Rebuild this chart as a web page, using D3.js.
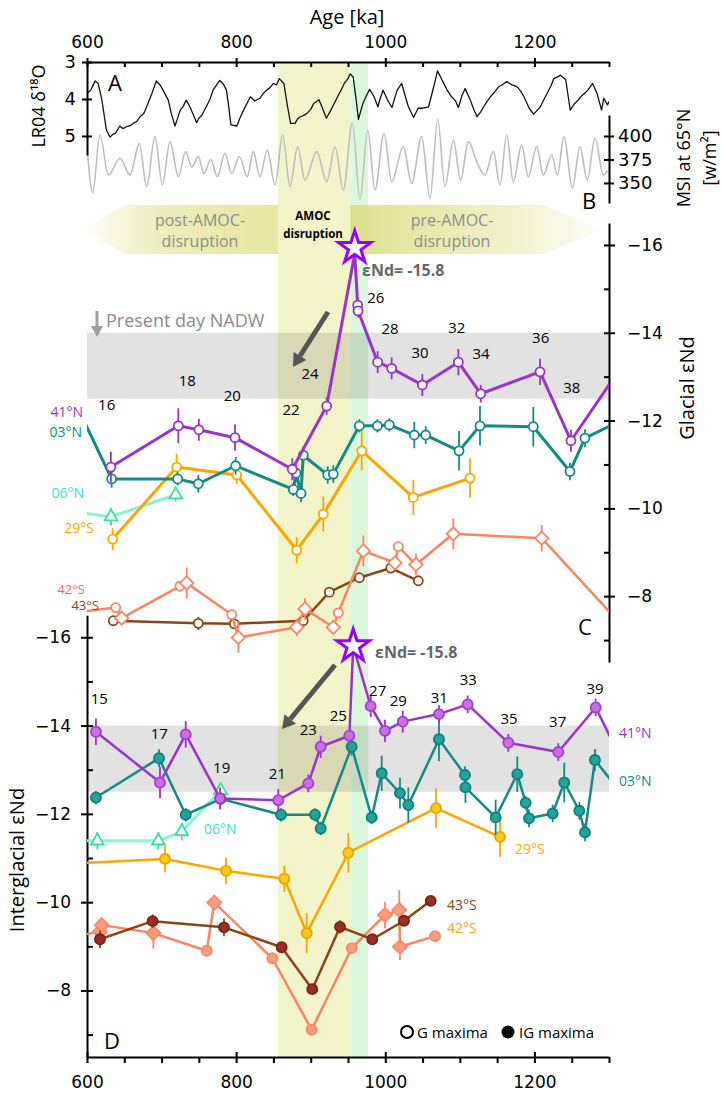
<!DOCTYPE html>
<html><head><meta charset="utf-8">
<script src="https://cdn.jsdelivr.net/npm/d3@7"></script>
<style>
body{margin:0;background:#fff}
svg{display:block}
text{font-family:"Open Sans",sans-serif}
.tick text{font-family:"DejaVu Sans",sans-serif;font-size:17px;fill:#000}
</style>
</head><body>
<svg id="c" width="723" height="1096"></svg>
<script>
// ---------------- DATA ----------------
const ageTicks = [600, 800, 1000, 1200];
const ageMinor = d3.range(600, 1301, 50);
const d18Ticks = [3, 4, 5];
const msiTicks = [350, 375, 400];
const endMajor = [-16, -14, -12, -10, -8];
const endMinor = [-15, -13, -11, -9, -7];
const amocBand = [856, 953];
const greenBand = [953, 977];
const nadwBand = [-14, -12.5];

// LR04 benthic d18O stack [age ka, permil]
const lr04 = [[600,3.85],[605,3.76],[611,3.51],[615,3.58],[620,4.03],[626,4.84],[631,5.03],[635,4.95],[638,4.93],[644,4.73],[648,4.80],[653,4.75],[658,4.72],[662,4.66],[667,4.60],[671,4.48],[676,4.40],[680,4.21],[687,3.85],[693,3.51],[698,3.62],[702,3.76],[709,4.03],[713,4.39],[718,4.73],[721,4.55],[725,4.30],[729,4.20],[733,4.03],[738,4.21],[742,4.40],[747,4.64],[750,4.52],[754,4.44],[760,4.21],[765,4.00],[769,3.76],[778,3.50],[783,3.60],[787,3.76],[790,4.20],[793,4.70],[801,4.73],[805,4.52],[810,4.30],[815,4.10],[819,3.94],[825,4.05],[832,3.98],[836,3.86],[841,3.76],[845,3.70],[850,3.58],[854,3.62],[858,3.45],[864,3.58],[869,4.21],[873,4.66],[879,4.66],[882,4.55],[886,4.48],[890,4.45],[895,4.39],[900,4.28],[904,4.12],[911,4.02],[915,4.21],[921,4.52],[927,4.30],[932,4.10],[936,3.94],[941,3.75],[945,3.58],[950,3.45],[953,3.32],[957,3.41],[961,4.03],[964,4.55],[970,4.12],[975,3.90],[979,3.74],[985,3.94],[990,4.21],[993,4.00],[997,3.76],[1003,4.03],[1009,4.23],[1013,3.95],[1016,3.76],[1022,3.58],[1027,3.94],[1031,4.21],[1038,4.50],[1044,4.25],[1050,4.25],[1058,4.21],[1065,3.67],[1070,3.24],[1076,3.48],[1083,3.76],[1089,3.94],[1094,4.05],[1098,4.23],[1103,3.90],[1107,3.72],[1114,4.03],[1119,4.30],[1123,4.48],[1128,4.35],[1132,4.21],[1137,4.05],[1141,3.94],[1147,3.80],[1152,3.67],[1158,3.60],[1163,3.53],[1170,3.62],[1177,3.67],[1182,3.80],[1186,3.94],[1193,4.25],[1199,4.41],[1204,4.30],[1208,4.21],[1213,4.00],[1217,3.85],[1222,3.65],[1226,3.45],[1235,3.36],[1242,3.48],[1248,4.30],[1254,4.12],[1258,4.05],[1262,3.94],[1267,3.85],[1271,3.78],[1278,3.58],[1284,3.85],[1290,4.30],[1293,3.98],[1298,4.16],[1300,4.07]];

// Mid-summer insolation at 65N [age ka, W/m2]
const msi = [[600,390],[607.6,339.7],[617.4,401],[628.6,358.5],[644.3,376.3],[657.7,358.5],[670.2,392],[680,346],[691.2,399.3],[701,348],[711.3,394],[722.5,356.7],[732.3,383.3],[740.4,367],[749.3,378],[756.9,360],[765.9,375],[774.8,356.7],[785,381.6],[794,360],[804.3,378],[815,356.7],[823,383.3],[832,356.7],[841.8,385],[852.1,348],[862.4,401],[872.2,346],[882.5,388.6],[892.3,353],[908,383.3],[921.4,351.4],[932.6,388.6],[943.7,342.5],[955.8,414],[966.1,332.6],[976.4,406.4],[986.2,342.5],[998.3,402.8],[1008.6,351.4],[1024.2,388.6],[1035.4,349.6],[1048.8,399.3],[1060,333.7],[1070.3,417.7],[1080.1,346],[1091.2,395.7],[1101.1,353],[1111.3,394],[1123.4,371],[1133.7,358.5],[1144.9,383.3],[1153.8,348],[1162.8,401],[1171.7,351.4],[1182.9,390.4],[1191.8,356.7],[1203.1,388.6],[1211.9,358.5],[1223.2,379.8],[1230.7,358.5],[1239.7,399.3],[1250.8,344.4],[1261.1,388.6],[1270.9,353],[1281.2,397.5],[1292.4,358.5],[1298,363]];

// Glacial eNd [age, eNd, 1sd, marker]  (marker: c circle, d diamond, t triangle, n none, star)
const g41N = [[632,-10.94,0.35],[722.5,-11.88,0.4],[750,-11.79,0.25],[798.5,-11.61,0.3],[875.3,-10.89,0.25],[921.4,-12.33,0.2],[959,-15.8,0,'star'],[963,-14.63,0.1],[963.5,-14.5,0.15],[989.8,-13.33,0.25],[1008.6,-13.19,0.25],[1049.7,-12.81,0.25],[1098,-13.33,0.3],[1128,-12.61,0.2],[1207.5,-13.11,0.3],[1249,-11.54,0.25],[1310,-13.06,0,'n']];
const g03N = [[593,-12.1,0,'n'],[633,-10.67,0.2],[721.6,-10.67,0.15],[749.3,-10.56,0.2],[799.4,-10.97,0.2],[876.7,-10.43,0.15],[880.3,-10.8,0.2],[887,-10.34,0.2],[890,-11.21,0.2],[922.8,-10.76,0.2],[930.3,-10.78,0.2],[965.2,-11.88,0.15],[989.5,-11.88,0.15],[1005.4,-11.9,0.15],[1038.9,-11.67,0.3],[1054.2,-11.67,0.2],[1098.9,-11.31,0.45],[1127,-11.88,0.45],[1198.5,-11.86,0.45],[1247.7,-10.84,0.2],[1267.8,-11.6,0.2],[1310,-11.95,0,'n']];
const g06N = [[593,-9.9,0,'n'],[632.2,-9.81,0.2],[719,-10.31,0.15]];
const g29S = [[634.4,-9.30,0.25],[720.2,-10.94,0.3],[800.7,-10.76,0.2],[881.2,-9.05,0.3],[916.9,-9.87,0.4],[968.4,-11.31,0.45],[1037.6,-10.25,0.4],[1113.6,-10.69,0.45]];
const g42S = [[593,-7.65,0,'n'],[638.5,-7.74,0.1,'c'],[646.5,-7.5,0.1,'d'],[724.7,-8.23,0.1,'c'],[733.7,-8.3,0.35,'d'],[794,-7.58,0.1,'c'],[803,-7.06,0.35,'d'],[881.2,-7.29,0.2,'d'],[892.3,-7.71,0.25,'d'],[930.3,-7.29,0.1,'d'],[937,-7.62,0.1,'c'],[970.6,-9.03,0.35,'d'],[1013,-8.76,0.1,'d'],[1017.5,-9.13,0.1,'c'],[1041.2,-8.72,0.25,'d'],[1091.2,-9.42,0.35,'d'],[1209.8,-9.32,0.3,'d'],[1310,-7.47,0,'n']];
const g43S = [[635.3,-7.44,0.1],[749.3,-7.38,0.15],[797.6,-7.37,0.1],[890,-7.44,0.1],[925,-8.09,0.1],[965.2,-8.42,0.1],[1007.3,-8.64,0.1],[1044.3,-8.35,0.1]];

// Interglacial eNd
const i41N = [[612,-13.86,0.3],[697.9,-12.71,0.35],[732.4,-13.8,0.3],[778.4,-12.35,0.25],[856.5,-12.31,0.25],[896.8,-12.69,0.2],[913.4,-13.52,0.25],[951.8,-13.77,0.1],[957,-15.8,0,'star'],[980.4,-14.44,0.25],[999.6,-13.88,0.25],[1023.4,-14.09,0.25],[1072,-14.26,0.2],[1110.5,-14.48,0.2],[1165,-13.61,0.2],[1232,-13.4,0.2],[1282.2,-14.41,0.2],[1310,-13.45,0,'n']];
const i03N = [[612,-12.37,0.15],[696.6,-13.26,0.2],[732.4,-11.98,0.15],[779.3,-12.34,0.15],[860.2,-11.98,0.15],[905.8,-11.98,0.15],[913.4,-11.67,0.15],[954.9,-13.52,0.2],[981.8,-11.92,0.15],[995.2,-12.92,0.4],[1019.7,-12.47,0.35],[1030.9,-12.2,0.4],[1072,-13.69,0.5],[1106.9,-12.88,0.2],[1107.5,-12.6,0.35],[1148,-11.92,0.4],[1177,-12.9,0.4],[1188.3,-12.25,0.15],[1192.7,-11.9,0.2],[1224.5,-12.01,0.2],[1240,-12.71,0.45],[1260.2,-12.07,0.2],[1267.8,-11.58,0.2],[1281.2,-13.22,0.25],[1310,-12.6,0,'n']];
const i06N = [[593,-11.39,0,'n'],[613.8,-11.39,0.2],[695.6,-11.39,0.2],[727,-11.6,0.2],[779.3,-12.53,0.15]];
const i29S = [[593,-10.89,0,'n'],[704.6,-10.98,0.3],[786.4,-10.71,0.3],[864.6,-10.53,0.3],[894.6,-9.30,0.45],[950.4,-11.12,0.45],[1068,-12.13,0.45],[1153.9,-11.48,0.45]];
const i42S = [[593,-9.26,0,'n'],[617.4,-9.33,0.15,'d'],[619.7,-9.48,0.15,'d'],[689,-9.3,0.35,'d'],[760.5,-8.9,0.1,'c'],[770.7,-9.99,0.15,'d'],[848.5,-8.73,0.1,'c'],[901.2,-7.11,0.1,'c'],[955,-8.96,0.1,'c'],[999.6,-9.71,0.3,'d'],[1018.8,-9.82,0.45,'d'],[1019.7,-8.99,0.3,'d'],[1066.7,-9.23,0.1,'c']];
const i43S = [[617.4,-9.16,0.2],[688,-9.57,0.15],[783.7,-9.43,0.2],[861,-8.98,0.1],[902.1,-8.03,0.1],[939.3,-9.44,0.15],[982.6,-9.16,0.1],[1025.1,-9.58,0.1],[1060.9,-10.03,0.1]];

// MIS stage labels [label, age, eNd]
const misG = [["16",626.4,-12.38],["18",734.5,-12.92],["20",794.9,-12.58],["22",873.6,-12.26],["24",899,-13.08],["26",987.2,-14.82],["28",1006.3,-14.1],["30",1046.6,-13.57],["32",1095.8,-14.14],["34",1128.4,-13.53],["36",1208.4,-13.91],["38",1250,-12.76]];
const misIG = [["15",616.5,-14.62],["17",697,-13.83],["19",780.6,-13.06],["21",855.2,-12.92],["23",896.8,-13.92],["25",937,-14.24],["27",989.8,-14.81],["29",1017.5,-14.58],["31",1072.4,-14.65],["33",1111.3,-15.05],["35",1165.9,-14.17],["37",1231.2,-14.11],["39",1281.2,-14.84]];
const starValue = -15.8;

// ---------------- SCALES ----------------
const X = d3.scaleLinear().domain([600, 1300]).range([87, 609]);
const yLR = d3.scaleLinear().domain([3, 5.514]).range([62, 155]);
const yMSI = d3.scaleLinear().domain([328.7, 422.3]).range([203, 115]);
const yG = d3.scaleLinear().domain([-16.5, -6.5]).range([223, 662]);
const yIG = d3.scaleLinear().domain([-16.5, -6.5]).range([615.2, 1056.7]);

const svg = d3.select('#c');
const defs = svg.append('defs');
defs.append('clipPath').attr('id', 'clip').append('rect')
  .attr('x', X(600)).attr('y', 0).attr('width', X(1300) - X(600)).attr('height', 1096);
const g1 = defs.append('linearGradient').attr('id', 'postG').attr('x1', 0).attr('x2', 1).attr('y1', 0).attr('y2', 0);
g1.append('stop').attr('offset', 0).attr('stop-color', '#e6e49a').attr('stop-opacity', 0);
g1.append('stop').attr('offset', 0.4).attr('stop-color', '#e6e49a').attr('stop-opacity', 0.65);
g1.append('stop').attr('offset', 1).attr('stop-color', '#e6e49c').attr('stop-opacity', 0.95);
const g2 = defs.append('linearGradient').attr('id', 'preG').attr('x1', 0).attr('x2', 1).attr('y1', 0).attr('y2', 0);
g2.append('stop').attr('offset', 0).attr('stop-color', '#dcdf8a').attr('stop-opacity', 0.95);
g2.append('stop').attr('offset', 0.6).attr('stop-color', '#e6e49a').attr('stop-opacity', 0.55);
g2.append('stop').attr('offset', 1).attr('stop-color', '#e6e49a').attr('stop-opacity', 0.05);

// ---------------- BANDS ----------------
svg.append('rect').attr('x', X(amocBand[0])).attr('width', X(amocBand[1]) - X(amocBand[0]))
  .attr('y', 62).attr('height', 1057 - 62).attr('fill', '#f4f4cb');
svg.append('rect').attr('x', X(greenBand[0])).attr('width', X(greenBand[1]) - X(greenBand[0]))
  .attr('y', 62).attr('height', 1057 - 62).attr('fill', '#dcf8dc');

[yG, yIG].forEach(ys => {
  svg.append('rect').attr('x', X(600)).attr('width', X(1300) - X(600))
    .attr('y', ys(nadwBand[0])).attr('height', ys(nadwBand[1]) - ys(nadwBand[0]))
    .attr('fill', 'rgba(0,0,0,0.115)');
});

// Arrow bands
const bt = 205, bb = 254, bm = (bt + bb) / 2;
svg.append('path').attr('fill', 'url(#postG)')
  .attr('d', `M${X(590)},${bm} L${X(652)},${bt} L${X(amocBand[0])},${bt} L${X(amocBand[0])},${bb} L${X(652)},${bb} Z`);
svg.append('path').attr('fill', 'url(#preG)')
  .attr('d', `M${X(amocBand[1])},${bt} L${X(1212)},${bt} L${X(1292)},${bm} L${X(1212)},${bb} L${X(amocBand[1])},${bb} Z`);

const txt = (x, y, s, o = {}) => svg.append('text').attr('x', x).attr('y', y).text(s)
  .attr('font-size', o.size || 16).attr('fill', o.fill || '#000')
  .attr('text-anchor', o.anchor || 'middle').attr('dominant-baseline', 'central')
  .attr('font-weight', o.weight || 'normal').attr('font-family', o.family || '"Open Sans",sans-serif');

txt(200, 220, 'post-AMOC-', { fill: '#8c8c8c', size: 16 });
txt(200, 241, 'disruption', { fill: '#8c8c8c', size: 16 });
txt(452, 220, 'pre-AMOC-', { fill: '#8c8c8c', size: 16 });
txt(452, 241, 'disruption', { fill: '#8c8c8c', size: 16 });
txt(313, 215, 'AMOC', { size: 11.5, weight: 'bold' });
txt(313, 233, 'disruption', { size: 11.5, weight: 'bold' });

// ---------------- TOP PANEL ----------------
const clipG = svg.append('g').attr('clip-path', 'url(#clip)');
clipG.append('path').attr('d', d3.line().curve(d3.curveMonotoneX).x(d => X(d[0])).y(d => yMSI(d[1]))(msi))
  .attr('fill', 'none').attr('stroke', '#bdbdbd').attr('stroke-width', 1.6);
clipG.append('path').attr('d', d3.line().x(d => X(d[0])).y(d => yLR(d[1]))(lr04))
  .attr('fill', 'none').attr('stroke', '#111').attr('stroke-width', 1.3).attr('stroke-linejoin', 'round');

function styleAxis(a) {
  a.select('.domain').attr('stroke', '#000').attr('stroke-width', 2);
  a.selectAll('.tick line').attr('stroke', '#000').attr('stroke-width', 2);
}
// top age axis
const topAx = svg.append('g').attr('transform', 'translate(0,62)')
  .call(d3.axisTop(X).tickValues(ageMinor).tickFormat(d => ageTicks.includes(d) ? d : '').tickSizeOuter(0));
styleAxis(topAx);
topAx.selectAll('.tick line').attr('y1', d => ageTicks.includes(d) ? -4 : 0).attr('y2', 5);
topAx.selectAll('.tick text').attr('y', -14).attr('dy', 0);
txt(347, 16, 'Age [ka]', { size: 20 });

// d18O axis
const lrAx = svg.append('g').attr('transform', `translate(${X(600)},0)`)
  .call(d3.axisLeft(yLR).tickValues(d18Ticks).tickFormat(d3.format('d')).tickSizeOuter(0));
styleAxis(lrAx);
lrAx.selectAll('.tick line').attr('x1', 5).attr('x2', -5);
lrAx.selectAll('.tick text').attr('x', -11).style('font-size', '18px');
svg.append('text').attr('transform', 'translate(38,106) rotate(-90)').attr('text-anchor', 'middle')
  .attr('dominant-baseline', 'central').attr('font-size', 18).text('LR04 δ¹⁸O');

// MSI axis
const msiAx = svg.append('g').attr('transform', `translate(${X(1300)},0)`)
  .call(d3.axisRight(yMSI).tickValues(msiTicks).tickSizeOuter(0));
styleAxis(msiAx);
msiAx.selectAll('.tick line').attr('x1', -5).attr('x2', 5);
msiAx.selectAll('.tick text').attr('x', 9).style('font-size', '18px');
svg.append('text').attr('transform', 'translate(683,158) rotate(-90)').attr('text-anchor', 'middle')
  .attr('dominant-baseline', 'central').attr('font-size', 18).text('MSI at 65°N');
svg.append('text').attr('transform', 'translate(709,158) rotate(-90)').attr('text-anchor', 'middle')
  .attr('dominant-baseline', 'central').attr('font-size', 18).text('[w/m²]');

txt(115, 82, 'A', { size: 22 });
txt(589, 200, 'B', { size: 22 });

// ---------------- eNd AXES ----------------
const gAx = svg.append('g').attr('transform', `translate(${X(1300)},0)`)
  .call(d3.axisRight(yG).tickValues(endMajor.concat(endMinor)).tickFormat(d => endMajor.includes(d) ? d3.format('d')(d) : '').tickSizeOuter(0));
styleAxis(gAx);
gAx.selectAll('.tick line').attr('x1', -5).attr('x2', d => endMajor.includes(d) ? 6 : 0);
gAx.selectAll('.tick text').attr('x', 18);
svg.append('text').attr('transform', 'translate(686,388) rotate(-90)').attr('text-anchor', 'middle')
  .attr('dominant-baseline', 'central').attr('font-size', 20).text('Glacial εNd');
txt(585, 626, 'C', { size: 22 });

const iAx = svg.append('g').attr('transform', `translate(${X(600)},0)`)
  .call(d3.axisLeft(yIG).tickValues(endMajor.concat(endMinor)).tickFormat(d => endMajor.includes(d) ? d3.format('d')(d) : '').tickSizeOuter(0));
styleAxis(iAx);
iAx.selectAll('.tick line').attr('x1', 6).attr('x2', d => endMajor.includes(d) ? -6 : 0);
iAx.selectAll('.tick text').attr('x', -16);
svg.append('text').attr('transform', 'translate(16,860) rotate(-90)').attr('text-anchor', 'middle')
  .attr('dominant-baseline', 'central').attr('font-size', 20).text('Interglacial εNd');
txt(112, 1040, 'D', { size: 22 });

const botAx = svg.append('g').attr('transform', 'translate(0,1057)')
  .call(d3.axisBottom(X).tickValues(ageMinor).tickFormat(d => ageTicks.includes(d) ? d : '').tickSizeOuter(0));
styleAxis(botAx);
botAx.selectAll('.tick line').attr('y1', d => ageTicks.includes(d) ? -5 : 0).attr('y2', 6);
botAx.selectAll('.tick text').attr('y', 19);

// ---------------- SERIES ----------------
function symPath(shape, big) {
  if (shape === 'd') return d3.symbol().type(d3.symbolSquare).size(big ? 100 : 88)();
  if (shape === 't') return d3.symbol().type(d3.symbolTriangle).size(70)();
  return d3.symbol().type(d3.symbolCircle).size(big ? 80 : 64)();
}
function drawSeries(data, ys, st) {
  const gg = svg.append('g');
  gg.append('path').attr('clip-path', 'url(#clip)')
    .attr('d', d3.line().x(d => X(d[0])).y(d => ys(d[1]))(data))
    .attr('fill', 'none').attr('stroke', st.line).attr('stroke-width', st.lw).attr('stroke-linejoin', 'round');
  gg.selectAll('line').data(data.filter(d => d[2] > 0)).join('line')
    .attr('x1', d => X(d[0])).attr('x2', d => X(d[0]))
    .attr('y1', d => ys(d[1] - d[2])).attr('y2', d => ys(d[1] + d[2]))
    .attr('stroke', st.err || st.line).attr('stroke-width', 1.8);
  gg.selectAll('path.m').data(data.filter(d => d[3] !== 'n' && d[3] !== 'star')).join('path')
    .attr('class', 'm')
    .attr('transform', d => `translate(${X(d[0])},${ys(d[1])})` + ((d[3] || st.shape) === 'd' ? ' rotate(45)' : ''))
    .attr('d', d => symPath(d[3] || st.shape, st.big))
    .attr('fill', st.fill).attr('stroke', st.stroke).attr('stroke-width', st.sw || 1.8);
}

// glacial (open symbols)
drawSeries(g43S, yG, { line: '#8b4513', lw: 2.5, shape: 'c', fill: '#fff', stroke: '#8b4513' });
drawSeries(g42S, yG, { line: '#fb8464', lw: 2.5, shape: 'c', fill: '#fff', stroke: '#fb8464' });
drawSeries(g06N, yG, { line: '#8af3d4', lw: 3, shape: 't', fill: '#fff', stroke: '#34e39b', err: '#34e39b' });
drawSeries(g29S, yG, { line: '#ffa500', lw: 3, shape: 'c', fill: '#fff', stroke: '#ffa500' });
drawSeries(g03N, yG, { line: '#138a86', lw: 3, shape: 'c', fill: '#fff', stroke: '#138a86' });
drawSeries(g41N, yG, { line: '#9a32cd', lw: 3, shape: 'c', fill: '#fff', stroke: '#9a32cd' });

// interglacial (filled symbols)
drawSeries(i42S, yIG, { line: '#fb8464', lw: 2.5, shape: 'c', fill: '#fc9c80', stroke: '#fb8a6a', big: true });
drawSeries(i43S, yIG, { line: '#8b4513', lw: 2.5, shape: 'c', fill: '#a3282a', stroke: '#6e2a12', big: true });
drawSeries(i29S, yIG, { line: '#ffa500', lw: 2.5, shape: 'c', fill: '#ffcc11', stroke: '#f2a200', big: true });
drawSeries(i06N, yIG, { line: '#8af3d4', lw: 3, shape: 't', fill: '#fff', stroke: '#34e39b', err: '#34e39b' });
drawSeries(i03N, yIG, { line: '#138a86', lw: 2.5, shape: 'c', fill: '#22a39c', stroke: '#11807b', big: true });
drawSeries(i41N, yIG, { line: '#9a32cd', lw: 2.5, shape: 'c', fill: '#cc6fe0', stroke: '#a33fd3', big: true });

// stars
const starP = d3.symbol().type(d3.symbolStar).size(330)();
[[g41N, yG, -6], [i41N, yIG, 0]].forEach(([arr, ys, off]) => {
  const s = arr.find(d => d[3] === 'star');
  svg.append('path').attr('d', starP).attr('transform', `translate(${X(s[0])},${ys(s[1]) + off})`)
    .attr('fill', '#fff').attr('stroke', '#9400ff').attr('stroke-width', 3).attr('stroke-linejoin', 'miter');
});
txt(362, 270, `εNd= ${starValue}`, { size: 16, weight: 'bold', fill: '#666', anchor: 'start' });
txt(375, 652, `εNd= ${starValue}`, { size: 16, weight: 'bold', fill: '#666', anchor: 'start' });

// MIS labels
misG.forEach(d => txt(X(d[1]), yG(d[2]), d[0], { size: 15 }));
misIG.forEach(d => txt(X(d[1]), yIG(d[2]), d[0], { size: 15 }));

// site labels
const lab = (x, y, s, c, a, sz) => txt(x, y, s, { size: sz || 14, fill: c, anchor: a || 'end' });
lab(83, 411, '41°N', '#9a32cd');
lab(82, 431, '03°N', '#138a86');
lab(84, 492, '06°N', '#3ee0d0');
lab(94, 527, '29°S', '#ffa500');
lab(85, 589, '42°S', '#fa6464', 'end', 13);
lab(99, 605, '43°S', '#8b4513', 'end', 13);
lab(619, 732, '41°N', '#9a32cd', 'start');
lab(619, 780, '03°N', '#138a86', 'start');
lab(204, 828, '06°N', '#3ee0d0', 'start');
lab(515, 848, '29°S', '#ffa500', 'start');
lab(447, 904, '43°S', '#8b4513', 'start');
lab(447, 927, '42°S', '#ffa500', 'start');

// Present day NADW
txt(106, 320, 'Present day NADW', { size: 18, fill: '#8a8a8a', anchor: 'start' });
svg.append('line').attr('x1', 97).attr('x2', 97).attr('y1', 311).attr('y2', 328).attr('stroke', '#a0a0a0').attr('stroke-width', 3);
svg.append('path').attr('d', 'M91,326 L103,326 L97,337 Z').attr('fill', '#a0a0a0');

// dark arrows
function darrow(x1, y1, x2, y2) {
  const a = Math.atan2(y2 - y1, x2 - x1), L = 13, W = 7.5;
  const bx = x2 - L * Math.cos(a), by = y2 - L * Math.sin(a);
  svg.append('line').attr('x1', x1).attr('y1', y1).attr('x2', bx).attr('y2', by).attr('stroke', '#555').attr('stroke-width', 5);
  svg.append('path').attr('fill', '#555').attr('d',
    `M${x2},${y2} L${bx + W * Math.sin(a)},${by - W * Math.cos(a)} L${bx - W * Math.sin(a)},${by + W * Math.cos(a)} Z`);
}
darrow(328, 312, 293, 367);
darrow(335, 665, 282, 729);

// legend
svg.append('circle').attr('cx', 407).attr('cy', 1032).attr('r', 6).attr('fill', '#fff').attr('stroke', '#000').attr('stroke-width', 2);
txt(417, 1032, 'G maxima', { size: 15, anchor: 'start' });
svg.append('circle').attr('cx', 508).attr('cy', 1032).attr('r', 6.5).attr('fill', '#000');
txt(519, 1032, 'IG maxima', { size: 15, anchor: 'start' });
</script>
</body></html>
